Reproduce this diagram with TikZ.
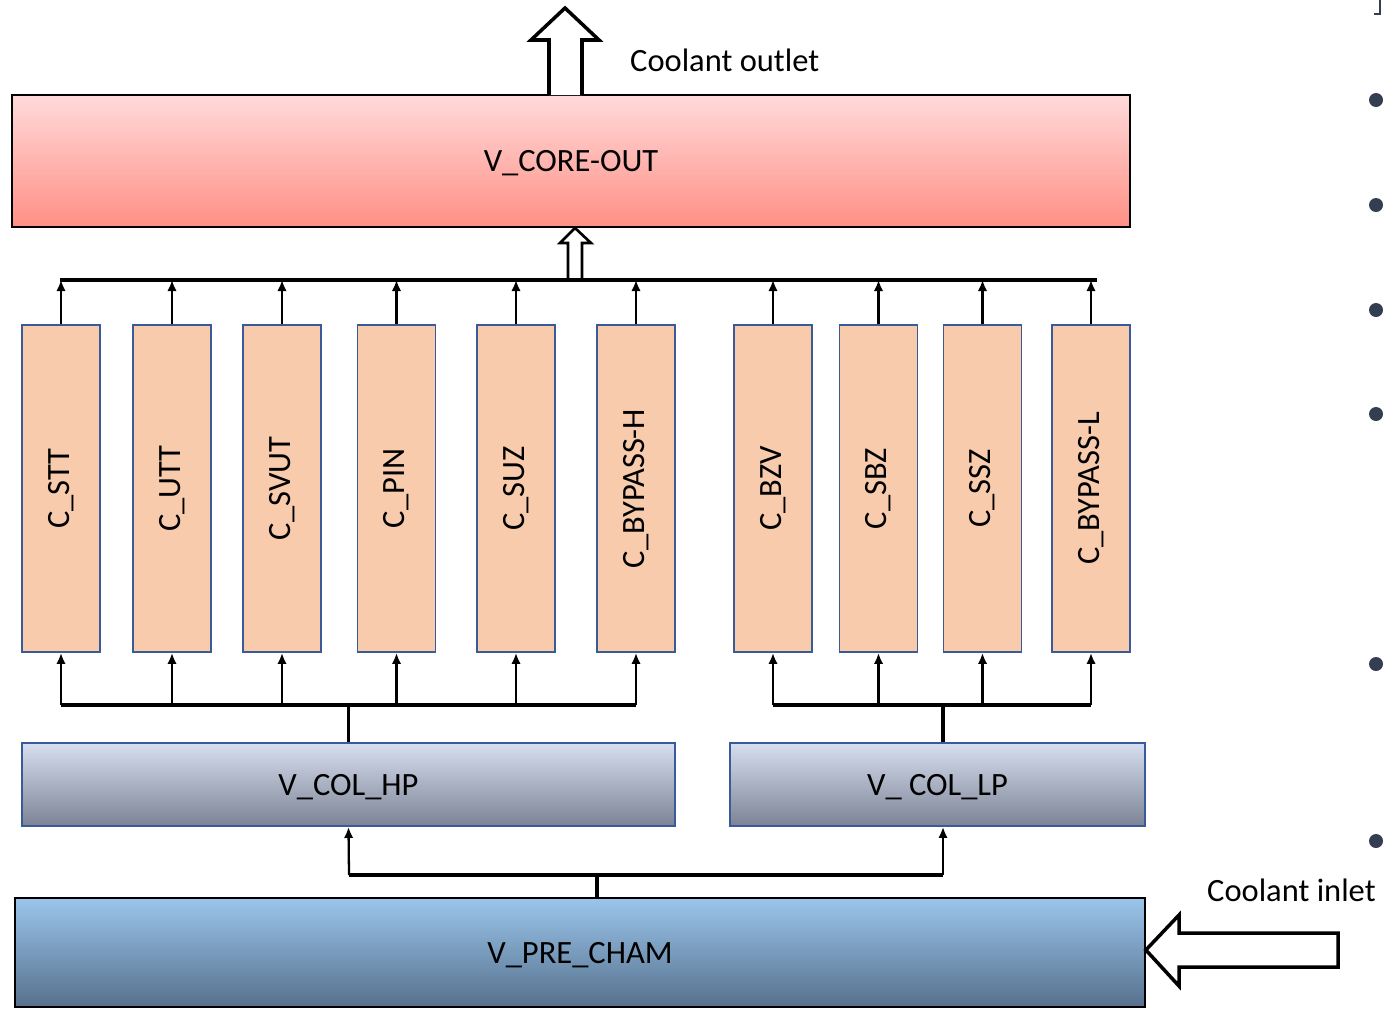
\documentclass[tikz,border=0pt]{standalone}
\usepackage{fontspec}
\setmainfont{Carlito}
\usetikzlibrary{arrows.meta}

\definecolor{coretop}{HTML}{FFDADA}
\definecolor{corebot}{HTML}{FF8F85}
\definecolor{coltop}{HTML}{D6DEF0}
\definecolor{colbot}{HTML}{7C8395}
\definecolor{pretop}{HTML}{9BC5EB}
\definecolor{prebot}{HTML}{56718D}
\definecolor{chanfill}{HTML}{F8CBAD}
\definecolor{chanedge}{HTML}{3A5A9A}
\definecolor{dotcol}{HTML}{333F50}

\begin{document}
\begin{tikzpicture}[x=0.02cm,y=-0.02cm,
    every node/.style={font=\fontsize{18.5}{22}\selectfont},
    vol/.style={draw, line width=1.1pt, inner sep=0pt, text height=12.2pt, text depth=0pt},
    chan/.style={draw=chanedge, fill=chanfill, line width=1.1pt,
        minimum width=1.56cm, minimum height=6.54cm, inner sep=0pt},
    flow/.style={-{Latex[length=2.2mm,width=1.9mm]}, line width=1.3pt},
    bus/.style={line width=2pt},
    hollow/.style={draw, fill=white, line join=miter}]
    \useasboundingbox (0,0) rectangle (1383,1008);

    % volumes
    \node[vol, top color=coretop, bottom color=corebot,
        minimum width=22.36cm, minimum height=2.64cm] (core) at (571,161) {V\_CORE-OUT};
    \node[vol, draw=chanedge, top color=coltop, bottom color=colbot,
        minimum width=13.06cm, minimum height=1.66cm] (hp) at (348.5,784.5) {V\_COL\_HP};
    \node[vol, draw=chanedge, top color=coltop, bottom color=colbot,
        minimum width=8.3cm, minimum height=1.66cm] (lp) at (937.5,784.5) {V\_ COL\_LP};
    \node[vol, top color=pretop, bottom color=prebot,
        minimum width=22.6cm, minimum height=2.18cm] (pre) at (580,952.5) {V\_PRE\_CHAM};

    % collector and distributor lines
    \coordinate (topL) at (60,280);
    \coordinate (topR) at (1097,280);
    \coordinate (hpL) at (61,705);
    \coordinate (hpR) at (636,705);
    \coordinate (lpL) at (773,705);
    \coordinate (lpR) at (1091,705);
    \coordinate (lpJ) at (943,705);
    \coordinate (preL) at (349,875);
    \coordinate (preR) at (943,875);
    \coordinate (preJ) at (597,875);

    % hollow arrow into core outlet volume
    \draw[hollow, line width=1.5pt] (568,280) -- (568,243) -- (560,243) -- (575,228)
        -- (591,243) -- (582,243) -- (582,280);

    \draw[bus] (topL) -- (topR);
    \draw[bus] (hpL) -- (hpR);
    \draw[bus] (lpL) -- (lpR);
    \draw[bus] (hp.north) -- (hp.north |- hpL);
    \draw[bus] (lpJ) -- (lpJ |- lp.north);
    \draw[bus] (preL) -- (preR);
    \draw[bus] (preJ) -- (preJ |- pre.north);
    \draw[flow] (preL) -- (hp.south);
    \draw[flow] (preR) -- (preR |- lp.south);

    % channels, high pressure side
    \foreach \x/\n/\t in {61/stt/C\_STT, 172/utt/C\_UTT, 282/svut/C\_SVUT,
        396.5/pin/C\_PIN, 516/suz/C\_SUZ, 636/byph/C\_BYPASS-H} {
        \node[chan] (\n) at (\x,488.5) {};
        \node[rotate=90] at (\n) {\t};
        \draw[flow] (\n.north) -- (\n.north |- topL);
        \draw[flow] (\n.south |- hpL) -- (\n.south);
    }
    % channels, low pressure side
    \foreach \x/\n/\t in {773/bzv/C\_BZV, 878.5/sbz/C\_SBZ, 982.5/ssz/C\_SSZ,
        1091/bypl/C\_BYPASS-L} {
        \node[chan] (\n) at (\x,488.5) {};
        \node[rotate=90] at (\n) {\t};
        \draw[flow] (\n.north) -- (\n.north |- topL);
        \draw[flow] (\n.south |- lpL) -- (\n.south);
    }

    % outlet and inlet
    \draw[hollow, line width=2pt] (549,95) -- (549,40) -- (531,40) -- (565,8)
        -- (599,40) -- (582,40) -- (582,95);
    \node[anchor=west] (outlet) at (624,60) {Coolant outlet};
    \draw[hollow, line width=2pt] (pre.east |- 0,950) -- (1179,915) -- (1179,933)
        -- (1338,933) -- (1338,967) -- (1179,967) -- (1179,986) -- cycle;
    \node[anchor=west] (inlet) at (1201,890) {Coolant inlet};

    % \foreach \y in {100,205,310} \draw[red] (1300,\y) -- (1383,\y);
    \foreach \y in {100,205,310,414,664,841}
        \fill[dotcol] (1376,\y) circle[radius=0.14cm];
    \draw[dotcol, line width=1.2pt] (1380,0) -- (1380,14) -- (1374,14);
\end{tikzpicture}
\end{document}
